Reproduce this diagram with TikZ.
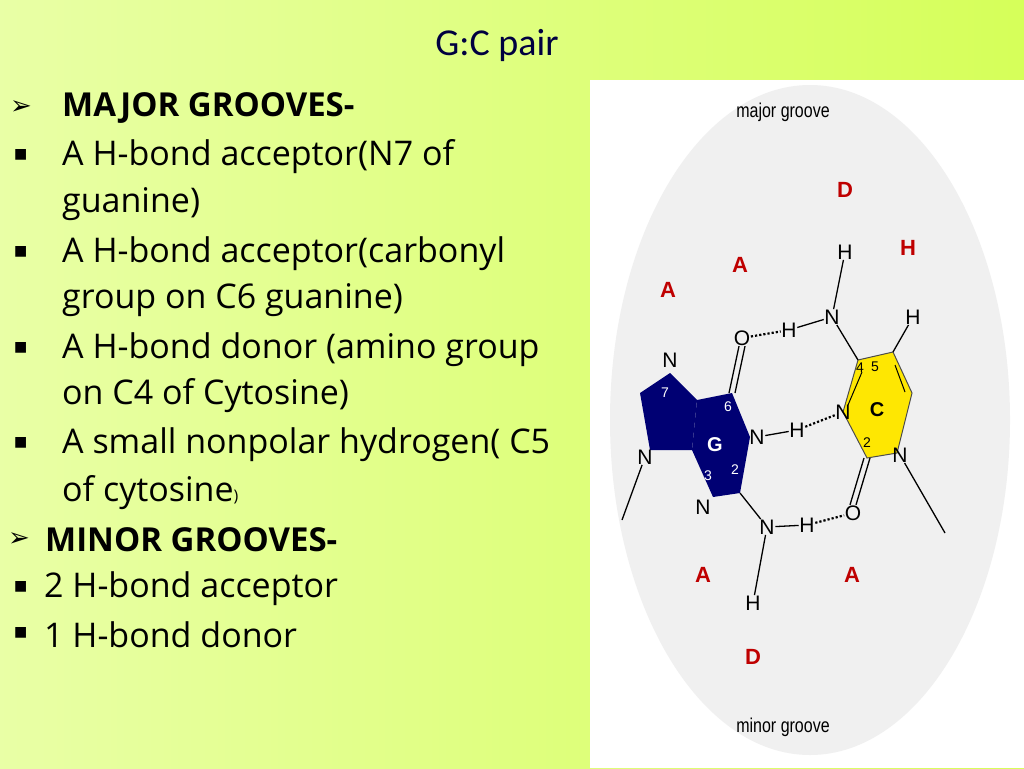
\documentclass[tikz,border=0pt]{standalone}
\usepackage{fontspec}
\setmainfont{Open Sans}
\newfontfamily\titlef{Carlito}
\newfontfamily\sym{DejaVu Sans}
\newfontfamily\lsans{Liberation Sans}
\begin{document}
\begin{tikzpicture}[x=1pt,y=-1pt,
  txt/.style={anchor=west,inner sep=0pt,font=\fontsize{34}{40}\selectfont},
  btxt/.style={anchor=west,inner sep=0pt,font=\bfseries\fontsize{33}{40}\selectfont},
  bul/.style={anchor=west,inner sep=0pt,font=\sym\fontsize{14}{14}\selectfont},
  atom/.style={inner sep=0.5pt,font=\lsans\fontsize{21}{21}\selectfont,fill=gray!12},
  num/.style={inner sep=0pt,font=\lsans\fontsize{14}{14}\selectfont},
  red/.style={inner sep=0pt,font=\lsans\bfseries\fontsize{22}{22}\selectfont,text=red!75!black},
  bond/.style={line width=1.3pt},
  hb/.style={line width=2.2pt,dotted}]
\useasboundingbox (0,0) rectangle (1024,768);
\shade[left color=green!25!yellow!35,right color=yellow!75!green!65] (0,0) rectangle (1024,768);
\fill[white] (590,80) rectangle (1024,768);
\fill[gray!12] (810,420) ellipse (200 and 335);
\node[inner sep=0pt,font=\titlef\fontsize{38}{40}\selectfont,text=black!75!blue] (title) at (497,45) {G:C pair};
% left text
\node[bul,font=\sym\fontsize{26}{26}\selectfont] (a1) at (10,108) {➢};
\node[btxt] (t1) at (62,108) {MAJOR GROOVES-};
\node[bul] (b2) at (14,155) {■};
\node[txt] (t2) at (62,157) {A H-bond acceptor(N7 of};
\node[txt] (t3) at (62,204) {guanine)};
\node[bul] (b4) at (14,252) {■};
\node[txt] (t4) at (62,254) {A H-bond acceptor(carbonyl};
\node[txt] (t5) at (62,300) {group on C6 guanine)};
\node[bul] (b6) at (14,348) {■};
\node[txt] (t6) at (62,350) {A H-bond donor (amino group};
\node[txt] (t7) at (62,396) {on C4 of Cytosine)};
\node[bul] (b8) at (14,443) {■};
\node[txt] (t8) at (62,445) {A small nonpolar hydrogen( C5};
\node[txt] (t9) at (62,493) {of cytosine{\fontsize{16}{16}\selectfont)}};
\node[bul,font=\sym\fontsize{26}{26}\selectfont] (a10) at (8,540) {➢};
\node[btxt] (t10) at (45,540) {MINOR GROOVES-};
\node[bul] (b11) at (14,587) {■};
\node[txt] (t11) at (44,589) {2 H-bond acceptor};
\node[bul] (b12) at (14,633) {■};
\node[txt] (t12) at (44,635) {1 H-bond donor};
% diagram labels
\node[inner sep=0pt,font=\lsans\fontsize{20}{20}\selectfont,xscale=0.8] (mj) at (783,112) {major groove};
\node[inner sep=0pt,font=\lsans\fontsize{20}{20}\selectfont,xscale=0.8] (mn) at (783,727) {minor groove};
% guanine rings
\fill[blue!45!black] (732,393)--(750,437)--(740,493)--(713,497)--(692,450)--(697,400)--cycle;
\fill[blue!45!black] (697,400)--(670,373)--(640,393)--(650,450)--(692,450)--cycle;
% cytosine ring
\filldraw[fill=yellow!90!orange,draw=black!70,line width=1pt] (858,360)--(893,352)--(912,393)--(897,453)--(867,458)--(843,412)--cycle;
\draw[line width=1pt] (862,372)--(848,405) (895,365)--(905,392);
% atoms
\node[atom] (Oup) at (742,338) {O};
\node[atom] (Hup) at (789,330) {H};
\node[atom] (Nup) at (832,317) {N};
\node[atom] (Htop) at (845,252) {H};
\node[atom] (H5) at (913,317) {H};
\node[atom,fill=none] (N3c) at (843,412) {N};
\node[atom] (Hmid) at (797,430) {H};
\node[atom,fill=none] (N1g) at (757,437) {N};
\node[atom,fill=none] (N1c) at (900,455) {N};
\node[atom] (Olow) at (853,513) {O};
\node[atom] (Hlow) at (807,525) {H};
\node[atom] (Nlow) at (767,527) {N};
\node[atom] (Hbot) at (753,603) {H};
\node[atom,fill=none] (N7) at (670,360) {N};
\node[atom,fill=none] (N9) at (645,457) {N};
\node[atom,fill=none] (N3g) at (703,507) {N};
\coordinate (C6g) at (732,393);
\coordinate (C2g) at (740,493);
\coordinate (C4c) at (858,360);
\coordinate (C5c) at (893,352);
\coordinate (C2c) at (867,458);
\coordinate (Mg) at (622,520);
\coordinate (Mc) at (945,533);
\draw[bond] (Oup.south)++(-3,0)--([xshift=-3pt]C6g) (Oup.south)++(3,0)--([xshift=3pt]C6g);
\draw[bond] (Hup)--(Nup) (Nup)--(Htop) (Nup)--(C4c) (C5c)--(H5);
\draw[bond] (N1g)--(Hmid) (Nlow)--(Hlow) (Nlow)--(Hbot) (C2g)--(Nlow);
\draw[bond] ([xshift=-3pt]Olow.north)--([xshift=-3pt]C2c) ([xshift=3pt]Olow.north)--([xshift=3pt]C2c);
\draw[bond] (N9)--(Mg) (N1c)--(Mc);
\draw[hb] (Oup)--(Hup) (Hmid)--(N3c) (Hlow)--(Olow);
% numbers
\node[num,text=white] (n7) at (665,393) {7};
\node[num,text=white] (n6) at (728,407) {6};
\node[num,text=white,font=\lsans\bfseries\fontsize{20}{20}\selectfont] (nG) at (715,445) {G};
\node[num,text=white] (n3) at (708,476) {3};
\node[num,text=white] (n2) at (735,470) {2};
\node[num] (n4) at (860,368) {4};
\node[num] (n5) at (875,367) {5};
\node[num,font=\lsans\bfseries\fontsize{20}{20}\selectfont] (nC) at (877,410) {C};
\node[num] (n2c) at (867,443) {2};
% red letters
\node[red] (r1) at (668,290) {A};
\node[red] (r2) at (740,265) {A};
\node[red] (r3) at (845,190) {D};
\node[red] (r4) at (908,248) {H};
\node[red] (r5) at (703,575) {A};
\node[red] (r6) at (852,575) {A};
\node[red] (r7) at (753,657) {D};
\end{tikzpicture}
\end{document}
